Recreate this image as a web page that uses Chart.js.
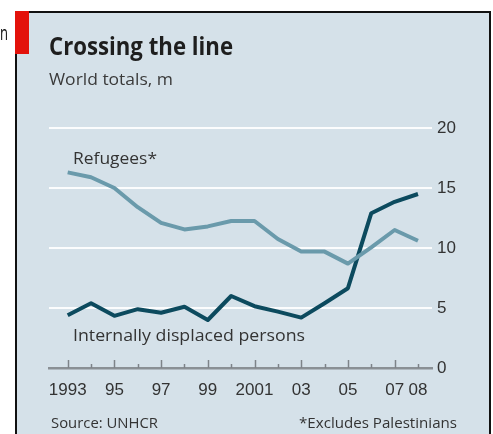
<!DOCTYPE html>
<html>
<head>
<meta charset="utf-8">
<script src="https://cdn.jsdelivr.net/npm/chart.js@4.4.1/dist/chart.umd.min.js"></script>
<style>
  html, body { margin: 0; padding: 0; background: #fff; }
  canvas { display: block; }
</style>
</head>
<body>
<canvas id="chart" width="493" height="434"></canvas>
<script>
// world totals, millions
const years = [1993, 1994, 1995, 1996, 1997, 1998, 1999, 2000, 2001, 2002, 2003, 2004, 2005, 2006, 2007, 2008];
const refugees = [16.3, 15.9, 15.0, 13.4, 12.1, 11.55, 11.8, 12.25, 12.25, 10.75, 9.7, 9.7, 8.7, 10.05, 11.5, 10.6];
const displaced = [4.4, 5.4, 4.35, 4.9, 4.6, 5.1, 4.0, 6.0, 5.15, 4.7, 4.2, 5.4, 6.65, 12.9, 13.85, 14.5];
const yearLabels = ['1993', '', '95', '', '97', '', '99', '', '2001', '', '03', '', '05', '', '07', '08'];
const valueTicks = [0, 5, 10, 15, 20];

const ink = '#333';
const panelBg = '#d5e1e9';

// draw one line of text stretched/squeezed to a set width
function fitText(ctx, str, x, y, font, width, color, align) {
  ctx.save();
  ctx.font = font;
  ctx.fillStyle = color;
  ctx.textBaseline = 'alphabetic';
  ctx.textAlign = 'left';
  const k = width / ctx.measureText(str).width;
  ctx.translate(align === 'right' ? x - width : x, y);
  ctx.scale(k, 1);
  ctx.fillText(str, 0, 0);
  ctx.restore();
}

const frame = {
  id: 'frame',
  beforeDraw(chart) {
    const c = chart.ctx;
    c.save();
    c.fillStyle = '#fff';
    c.fillRect(0, 0, chart.width, chart.height);
    c.fillStyle = panelBg;
    c.fillRect(15, 11, 476, 423);
    c.strokeStyle = '#111';
    c.lineWidth = 2;
    c.beginPath();
    c.moveTo(16, 434); c.lineTo(16, 12); c.lineTo(490, 12); c.lineTo(490, 434);
    c.stroke();
    c.fillStyle = '#e3120b';
    c.fillRect(15, 11, 14, 43);
    c.restore();
  },
  beforeDatasetsDraw(chart) {
    // small ticks standing on the year axis, taller on odd years
    const c = chart.ctx, x = chart.scales.x, base = chart.chartArea.bottom;
    c.save();
    c.strokeStyle = '#7d8388';
    c.lineWidth = 1.5;
    years.forEach(yr => {
      const px = Math.round(x.getPixelForValue(yr)) + 0.5;
      const len = yr % 2 ? 8 : 4;
      c.beginPath();
      c.moveTo(px, base);
      c.lineTo(px, base - len);
      c.stroke();
    });
    c.restore();
  },
  afterDraw(chart) {
    const c = chart.ctx;
    fitText(c, 'n', 0, 40, '20px "Open Sans"', 8, '#111');
    fitText(c, 'Crossing the line', 49, 55, 'bold 25px "Open Sans"', 184, '#1e1e1e');
    fitText(c, 'World totals, m', 49, 85, '16px "Open Sans"', 124, '#3a3a3a');
    fitText(c, 'Refugees*', 73, 164, '17px "Open Sans"', 84, ink);
    fitText(c, 'Internally displaced persons', 73, 341, '17px "Open Sans"', 232, ink);
    fitText(c, 'Source: UNHCR', 51, 428, '15px "Open Sans"', 107, ink);
    fitText(c, '*Excludes Palestinians', 457, 428, '15px "Open Sans"', 158, ink, 'right');
  }
};

const tickFont = { family: 'Liberation Sans', size: 17 };

new Chart(document.getElementById('chart'), {
  type: 'line',
  data: {
    datasets: [
      {
        label: 'Refugees*',
        data: years.map((yr, i) => ({ x: yr, y: refugees[i] })),
        borderColor: '#6a9aab',
        borderWidth: 4,
        pointRadius: 0,
        tension: 0,
        borderJoinStyle: 'round'
      },
      {
        label: 'Internally displaced persons',
        data: years.map((yr, i) => ({ x: yr, y: displaced[i] })),
        borderColor: '#0c4a5e',
        borderWidth: 4,
        pointRadius: 0,
        tension: 0,
        borderJoinStyle: 'round'
      }
    ]
  },
  options: {
    responsive: false,
    animation: false,
    devicePixelRatio: 1,
    layout: { padding: { left: 49, top: 128, right: 16, bottom: 26 } },
    plugins: {
      legend: { display: false },
      title: { display: false },
      tooltip: { enabled: false }
    },
    scales: {
      x: {
        type: 'linear',
        min: 1992.2,
        max: 2008.6,
        grid: { display: false, drawTicks: false },
        border: { display: true, color: '#8a9095', width: 2.5 },
        afterBuildTicks: s => { s.ticks = years.map(v => ({ value: v })); },
        afterFit: s => { s.height = 40; },
        ticks: {
          autoSkip: false,
          maxRotation: 0,
          padding: 12,
          color: ink,
          font: tickFont,
          callback: v => yearLabels[years.indexOf(v)]
        }
      },
      y: {
        position: 'right',
        min: 0,
        max: 20,
        afterBuildTicks: s => { s.ticks = valueTicks.map(v => ({ value: v })); },
        afterFit: s => { s.width = 45; },
        grid: {
          color: ctx => (ctx.tick && ctx.tick.value === 0) ? 'rgba(0,0,0,0)' : '#fbfcfd',
          lineWidth: 2,
          drawTicks: false
        },
        border: { display: false },
        ticks: { padding: 5, color: ink, font: tickFont }
      }
    }
  },
  plugins: [frame]
});
</script>
</body>
</html>
